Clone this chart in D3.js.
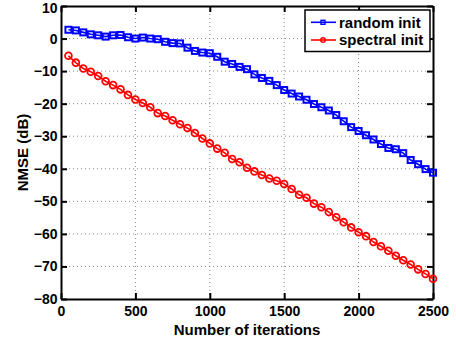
<!DOCTYPE html>
<html>
<head>
<meta charset="utf-8">
<script src="https://cdn.jsdelivr.net/npm/d3@7"></script>
<style>
  body { margin: 0; background: #fff; }
  svg text { font-family: "Liberation Sans", Arial, sans-serif; font-weight: bold; }
</style>
</head>
<body>
<div id="chart"></div>
<script>
// iterations sampled every 50
var iterations = d3.range(50, 2501, 50);

var randomInit = [
  2.7, 2.5, 1.9, 1.3, 1.0, 0.6, 1.0, 1.1, 0.4, 0.0,
  0.3, 0.0, -0.2, -1.0, -1.4, -1.5, -2.8, -3.8, -4.3, -4.5,
  -5.6, -7.1, -7.8, -8.7, -9.4, -11.0, -12.1, -13.0, -14.3, -15.8,
  -16.9, -17.8, -18.8, -20.1, -21.1, -22.1, -23.5, -25.4, -27.2, -28.4,
  -29.7, -31.0, -32.4, -33.6, -34.0, -35.2, -37.3, -38.6, -40.1, -41.2
];

var spectralInit = [
  -5.3, -7.4, -9.2, -10.2, -11.5, -13.1, -14.3, -15.6, -17.3, -18.7,
  -19.8, -21.1, -22.9, -23.8, -25.1, -26.3, -27.5, -29.0, -30.7, -32.2,
  -33.8, -35.1, -37.0, -38.0, -39.7, -40.8, -41.9, -43.0, -43.7, -44.7,
  -46.2, -48.0, -48.9, -50.7, -51.8, -53.3, -54.9, -56.4, -58.0, -59.5,
  -60.7, -62.5, -63.8, -65.2, -66.7, -68.1, -69.4, -70.9, -72.3, -73.8
];

var xTicks = [0, 500, 1000, 1500, 2000, 2500];
var yTicks = [-80, -70, -60, -50, -40, -30, -20, -10, 0, 10];
var seriesNames = ["random init", "spectral init"];

var width = 456, height = 345;
var margin = { top: 6, right: 23, bottom: 46, left: 61 };
var w = width - margin.left - margin.right,
    h = height - margin.top - margin.bottom;

var svg = d3.select("#chart").append("svg")
  .attr("width", width)
  .attr("height", height);

var g = svg.append("g")
  .attr("transform", `translate(${margin.left},${margin.top})`);

var x = d3.scaleLinear().domain([0, 2500]).range([0, w]);
var y = d3.scaleLinear().domain([-80, 10]).range([h, 0]);

// grid
g.append("g").selectAll("line").data(xTicks.slice(1, -1)).join("line")
  .attr("x1", d => x(d)).attr("x2", d => x(d))
  .attr("y1", 0).attr("y2", h)
  .attr("stroke", "#888").attr("stroke-width", 1)
  .attr("stroke-dasharray", "1,3");
g.append("g").selectAll("line").data(yTicks.slice(1, -1)).join("line")
  .attr("y1", d => y(d)).attr("y2", d => y(d))
  .attr("x1", 0).attr("x2", w)
  .attr("stroke", "#888").attr("stroke-width", 1)
  .attr("stroke-dasharray", "1,3");

var fmt = d => d < 0 ? "\u2212" + Math.abs(d) : String(d);
var tickLen = 6;

// axes (ticks pointing inward, on all four sides)
var xAxis = g.append("g").attr("transform", `translate(0,${h})`)
  .call(d3.axisBottom(x).tickValues(xTicks).tickSizeInner(-tickLen).tickSizeOuter(0).tickPadding(7.5).tickFormat(fmt));
var xAxisTop = g.append("g")
  .call(d3.axisTop(x).tickValues(xTicks).tickSizeInner(-tickLen).tickSizeOuter(0).tickFormat(""));
var yAxis = g.append("g")
  .call(d3.axisLeft(y).tickValues(yTicks).tickSizeInner(-tickLen).tickSizeOuter(0).tickPadding(3.5).tickFormat(fmt));
var yAxisRight = g.append("g").attr("transform", `translate(${w},0)`)
  .call(d3.axisRight(y).tickValues(yTicks).tickSizeInner(-tickLen).tickSizeOuter(0).tickFormat(""));

[xAxis, xAxisTop, yAxis, yAxisRight].forEach(function (a) {
  a.select(".domain").attr("stroke", "#000").attr("stroke-width", 2);
  a.selectAll(".tick line").attr("stroke", "#000").attr("stroke-width", 2);
  a.selectAll(".tick text").attr("font-size", 14).attr("fill", "#000")
    .style("font-family", "'Liberation Sans', Arial, sans-serif").style("font-weight", "bold");
});
xAxis.selectAll(".tick text").attr("dy", "0.71em");
// keep the top label inside the page
yAxis.selectAll(".tick text").filter(d => d === 10).attr("dy", "0.48em");

// lines
var line = d3.line()
  .x((d, i) => x(iterations[i]))
  .y(d => y(d));

g.append("path").datum(randomInit)
  .attr("fill", "none").attr("stroke", "#0000ff").attr("stroke-width", 1.6)
  .attr("d", line);
g.append("path").datum(spectralInit)
  .attr("fill", "none").attr("stroke", "#ff0000").attr("stroke-width", 1.6)
  .attr("d", line);

// markers
g.append("g").selectAll("rect").data(randomInit).join("rect")
  .attr("x", (d, i) => x(iterations[i]) - 3)
  .attr("y", d => y(d) - 3)
  .attr("width", 6).attr("height", 6)
  .attr("fill", "none").attr("stroke", "#0000ff").attr("stroke-width", 2);
g.append("g").selectAll("circle").data(spectralInit).join("circle")
  .attr("cx", (d, i) => x(iterations[i]))
  .attr("cy", d => y(d))
  .attr("r", 3.4)
  .attr("fill", "none").attr("stroke", "#ff0000").attr("stroke-width", 1.8);

// legend
var legend = g.append("g").attr("transform", `translate(${w - 128},4)`);
legend.append("rect")
  .attr("x", 0).attr("y", 0).attr("width", 125).attr("height", 41.5)
  .attr("fill", "#fff").attr("stroke", "#000").attr("stroke-width", 1.5);
var colors = ["#0000ff", "#ff0000"];
seriesNames.forEach(function (name, i) {
  var ly = 12.3 + i * 17.7;
  legend.append("line")
    .attr("x1", 6).attr("x2", 31).attr("y1", ly).attr("y2", ly)
    .attr("stroke", colors[i]).attr("stroke-width", 1.6);
  if (i === 0) {
    legend.append("rect").attr("x", 16).attr("y", ly - 2).attr("width", 4).attr("height", 4)
      .attr("fill", "none").attr("stroke", colors[i]).attr("stroke-width", 1.4);
  } else {
    legend.append("circle").attr("cx", 18).attr("cy", ly).attr("r", 2.3)
      .attr("fill", "none").attr("stroke", colors[i]).attr("stroke-width", 1.4);
  }
  legend.append("text")
    .attr("x", 34).attr("y", ly).attr("dy", "0.35em")
    .attr("font-size", 15).attr("fill", "#000")
    .text(name);
});

// axis labels
svg.append("text")
  .attr("x", margin.left + w / 2).attr("y", 335)
  .attr("text-anchor", "middle").attr("font-size", 15)
  .text("Number of iterations");
svg.append("text")
  .attr("transform", `translate(28,${margin.top + h / 2}) rotate(-90)`)
  .attr("text-anchor", "middle").attr("font-size", 15)
  .text("NMSE (dB)");
</script>
</body>
</html>
